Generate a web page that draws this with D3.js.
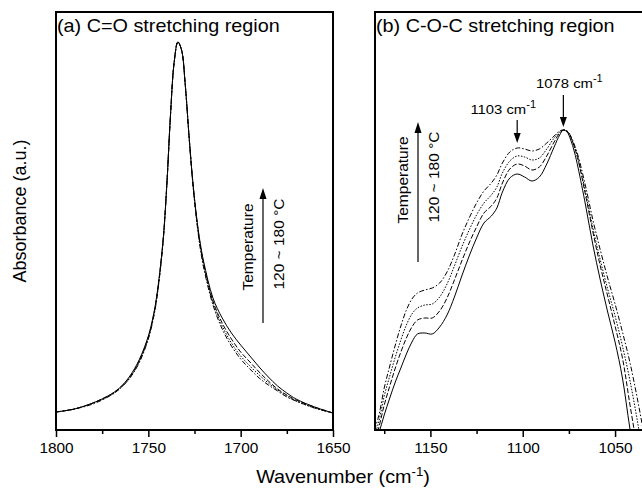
<!DOCTYPE html>
<html>
<head>
<meta charset="utf-8">
<script src="https://cdn.jsdelivr.net/npm/d3@7"></script>
<style>
body { margin: 0; background: #fff; }
text { font-family: "Liberation Sans", Arial, sans-serif; fill: #000; }
</style>
</head>
<body>
<script>
// (a) C=O region
const wnA = [1800,1790,1780,1770,1765,1760,1755,1750,1747,1745,1742,1740,1738,1736,1734,1732,1730,1728,1726,1724,1722,1720,1715,1710,1705,1700,1695,1690,1685,1680,1675,1670,1660,1650];
const solidA = [0.18,0.21,0.27,0.36,0.43,0.54,0.70,0.94,1.17,1.40,1.90,2.45,3.15,3.68,3.88,3.80,3.45,2.95,2.50,2.15,1.88,1.68,1.32,1.12,0.97,0.85,0.74,0.63,0.53,0.44,0.37,0.31,0.23,0.17];
const dashA = [0.18,0.21,0.27,0.36,0.43,0.53,0.69,0.93,1.16,1.39,1.90,2.45,3.15,3.68,3.88,3.80,3.45,2.95,2.50,2.14,1.86,1.66,1.29,1.07,0.91,0.78,0.68,0.58,0.49,0.41,0.35,0.30,0.23,0.17];
const dotA = [0.18,0.21,0.27,0.35,0.42,0.52,0.68,0.92,1.15,1.38,1.89,2.45,3.15,3.68,3.88,3.80,3.45,2.95,2.49,2.13,1.85,1.64,1.27,1.04,0.87,0.74,0.64,0.55,0.47,0.40,0.34,0.29,0.22,0.17];
const dashDotA = [0.18,0.21,0.26,0.35,0.42,0.52,0.67,0.91,1.14,1.37,1.88,2.44,3.15,3.68,3.88,3.80,3.45,2.94,2.48,2.12,1.83,1.62,1.25,1.01,0.84,0.71,0.61,0.52,0.45,0.39,0.33,0.29,0.22,0.17];

// (b) C-O-C region
const wnB = [1182,1178,1175,1172,1169,1166,1163,1160,1157,1153,1149,1145,1141,1137,1133,1129,1125,1121,1117,1114,1111,1107,1103,1099,1095,1091,1087,1083,1080,1078,1076,1074,1072,1070,1066,1062,1058,1054,1050,1046,1042,1038,1034,1030];
const solidB = [-0.30,-0.04,0.15,0.32,0.48,0.62,0.76,0.88,0.96,0.97,0.96,1.03,1.15,1.33,1.54,1.74,1.92,2.07,2.14,2.22,2.38,2.52,2.56,2.53,2.49,2.53,2.66,2.83,2.95,3.00,2.98,2.90,2.78,2.62,2.25,1.85,1.50,1.18,0.88,0.52,0.02,-0.40,-0.80,-1.20];
const dashB = [-0.22,0.02,0.25,0.44,0.62,0.78,0.92,1.03,1.10,1.12,1.12,1.19,1.32,1.50,1.69,1.87,2.03,2.17,2.24,2.32,2.47,2.61,2.66,2.64,2.60,2.63,2.74,2.88,2.97,3.00,2.99,2.93,2.83,2.70,2.35,1.98,1.64,1.34,1.04,0.72,0.26,-0.18,-0.60,-1.00];
const dotB = [-0.16,0.08,0.34,0.54,0.73,0.90,1.05,1.16,1.22,1.25,1.26,1.33,1.46,1.64,1.83,2.00,2.15,2.27,2.35,2.43,2.57,2.69,2.74,2.73,2.70,2.72,2.81,2.92,2.98,3.00,2.99,2.93,2.83,2.71,2.38,2.02,1.70,1.41,1.14,0.84,0.50,0.10,-0.35,-0.80];
const dashDotB = [-0.10,0.14,0.42,0.64,0.85,1.04,1.20,1.31,1.37,1.40,1.42,1.47,1.58,1.75,1.95,2.12,2.27,2.39,2.47,2.55,2.67,2.78,2.82,2.81,2.79,2.81,2.87,2.94,2.99,3.00,2.99,2.94,2.85,2.74,2.44,2.10,1.80,1.52,1.26,0.98,0.68,0.32,-0.08,-0.50];

const majorA = [1800,1750,1700,1650];
const minorA = [1775,1725,1675];
const majorB = [1150,1100,1050];
const minorB = [1175,1125,1075];

const dashes = ['none','5,2','1.5,1.5','5,2,1.5,2'];
const stretch = 'scale(1.1,1)';

const svg = d3.select('body').append('svg')
              .attr('width',642)
              .attr('height',489);

const plotTop = 12, plotBottom = 430;
const y = d3.scaleLinear().domain([0,3.9]).range([plotBottom,40]);
const xA = d3.scaleLinear().domain([1800,1650]).range([56,333]);
const xB = d3.scaleLinear().domain([1180,1030]).range([375,652]);

function panel(id, x, wn, series, major, minor, title){
  const x0 = x.range()[0], x1 = x.range()[1];
  svg.append('clipPath').attr('id',id)
     .append('rect').attr('x',x0).attr('y',plotTop).attr('width',x1-x0).attr('height',plotBottom-plotTop);

  const line = d3.line().x((d,i) => x(wn[i])).y(d => y(d)).curve(d3.curveCatmullRom);
  const g = svg.append('g').attr('clip-path','url(#'+id+')');
  series.forEach((s,i) => {
    g.append('path').attr('d',line(s))
     .style('fill','none').style('stroke','#000').style('stroke-width',1)
     .style('stroke-dasharray',dashes[i]);
  });

  const ax = svg.append('g').attr('transform','translate(0,'+plotBottom+')')
     .call(d3.axisBottom(x).tickValues(major).tickSize(7).tickPadding(6).tickFormat(d3.format('d')));
  ax.select('.domain').remove();
  ax.selectAll('line').style('stroke-width',1.5);
  ax.selectAll('text').style('font-size','14px').attr('transform',stretch)
    .style('font-family','"Liberation Sans", Arial, sans-serif');
  const mi = svg.append('g').attr('transform','translate(0,'+plotBottom+')')
     .call(d3.axisBottom(x).tickValues(minor).tickSize(4).tickFormat(''));
  mi.select('.domain').remove();
  mi.selectAll('line').style('stroke-width',1.5);

  svg.append('rect').attr('x',x0).attr('y',plotTop).attr('width',x1-x0).attr('height',plotBottom-plotTop)
     .style('fill','none').style('stroke','#000').style('stroke-width',2);

  svg.append('text').attr('transform','translate('+(x0+1)+',32) '+stretch)
     .style('font-size','18px').text(title);
}

panel('clipA', xA, wnA, [solidA,dashA,dotA,dashDotA], majorA, minorA, '(a) C=O stretching region');
panel('clipB', xB, wnB, [solidB,dashB,dotB,dashDotB], majorB, minorB, '(b) C-O-C stretching region');

// temperature arrows
function tempArrow(ax, y1, y2, yc){
  svg.append('line').attr('x1',ax).attr('x2',ax).attr('y1',y1).attr('y2',y2+8)
     .style('stroke','#000').style('stroke-width',1.2);
  svg.append('path').attr('d','M'+ax+','+y2+' l-3.5,11 l7,0 z').style('fill','#000');
  svg.append('text').attr('transform','translate('+(ax-10)+','+yc+') rotate(-90)')
     .attr('text-anchor','middle').style('font-size','15.5px').text('Temperature');
  svg.append('text').attr('transform','translate('+(ax+21)+','+(yc-3)+') rotate(-90)')
     .attr('text-anchor','middle').style('font-size','15.5px').text('120 ~ 180 °C');
}
tempArrow(263, 323, 188, 247);
tempArrow(418, 262, 122, 180);

// peak markers
function peak(wn, dx, ty, ay1, ay2){
  const px = xB(wn);
  const t = svg.append('text').attr('transform','translate('+(px+dx)+','+ty+') '+stretch)
     .attr('text-anchor','middle').style('font-size','13.5px');
  t.append('tspan').text(wn+' cm');
  t.append('tspan').attr('dy',-6).style('font-size','10px').text('-1');
  svg.append('line').attr('x1',px).attr('x2',px).attr('y1',ay1).attr('y2',ay2-8)
     .style('stroke','#000').style('stroke-width',1.2);
  svg.append('path').attr('d','M'+px+','+ay2+' l-3.5,-10 l7,0 z').style('fill','#000');
}
peak(1078, 6, 88, 95, 127);
peak(1103, -14, 114, 120, 143);

// axis titles
svg.append('text').attr('transform','translate(26,211) rotate(-90)')
   .attr('text-anchor','middle').style('font-size','18px').text('Absorbance (a.u.)');
const xt = svg.append('text').attr('transform','translate(343,483) '+stretch)
   .attr('text-anchor','middle').style('font-size','18px');
xt.append('tspan').text('Wavenumber (cm');
xt.append('tspan').attr('dy',-7).style('font-size','12px').text('-1');
xt.append('tspan').attr('dy',7).text(')');
</script>
</body>
</html>
